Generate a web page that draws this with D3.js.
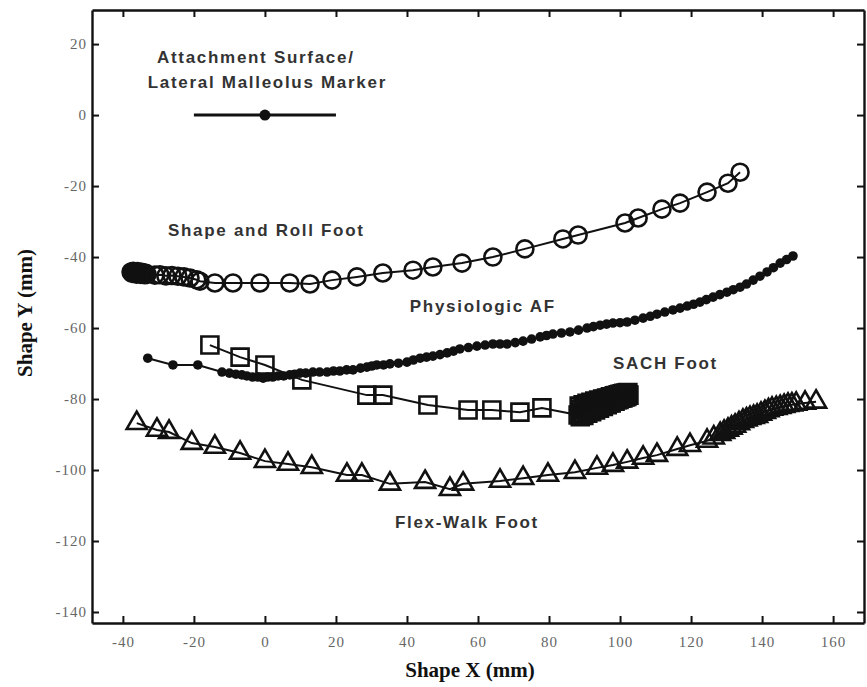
<!DOCTYPE html>
<html><head><meta charset="utf-8">
<script src="https://cdn.jsdelivr.net/npm/d3@7"></script>
<style>body{margin:0;background:#fff}svg{display:block}</style>
</head><body>
<svg id="chart" width="867" height="687"></svg>
<script>
// ---- tick values ----
const xTicks = [-40,-20,0,20,40,60,80,100,120,140,160];
const yTicks = [20,0,-20,-40,-60,-80,-100,-120,-140];

// ---- series: Shape and Roll Foot (open circles) ----
const shapeRollX = [-37.7,-37.4,-37.1,-36.8,-36.5,-36.2,-35.9,-35.6,-35.3,-35.0,-34.7,-34.4,-34.1,-33.8,-33.5,-33.2,-31.0,-29.6,-27.9,-26.2,-24.5,-22.8,-21.1,-19.2,-18.3,-14.1,-9.0,-1.4,7.0,12.7,18.9,25.9,33.2,41.7,47.3,55.5,64.2,73.2,83.9,88.2,101.4,105.1,111.8,116.9,124.5,130.4,133.8];
const shapeRollY = [-44.2,-44.6,-44.0,-44.5,-44.3,-44.8,-44.1,-44.6,-44.4,-44.9,-44.3,-44.7,-44.5,-45.0,-44.6,-44.9,-45.1,-45.0,-45.3,-45.2,-45.4,-45.6,-45.9,-46.4,-46.8,-47.3,-47.3,-47.3,-47.3,-47.6,-46.5,-45.6,-44.5,-43.7,-42.8,-41.7,-40.0,-37.7,-34.9,-33.8,-30.4,-29.0,-26.5,-24.8,-21.7,-19.2,-16.1];

// ---- series: Physiologic AF (small filled dots) ----
const physioX = [-33.0,-25.9,-18.9,-12.1,-10.0,-8.2,-6.5,-5.1,-3.5,-2.0,-0.5,0.8,2.2,3.7,5.3,7.0,8.4,9.9,11.5,13.5,15.4,17.5,19.3,21.1,23.0,24.8,26.9,28.7,30.1,31.5,33.4,35.2,37.6,40.0,41.8,43.7,45.5,47.3,49.3,51.3,53.1,54.9,57.3,59.7,62.0,64.2,66.2,68.2,70.5,72.7,75.1,77.5,79.3,81.1,83.5,85.9,88.3,90.7,92.5,94.4,96.2,98.0,100.0,102.0,104.2,106.5,108.5,110.4,112.6,114.9,116.9,118.9,120.7,122.5,124.3,126.2,128.1,130.1,131.9,133.8,135.6,137.5,139.4,141.4,143.2,145.1,146.9,148.7];
const physioY = [-68.5,-70.4,-70.4,-72.4,-72.7,-73.0,-73.2,-73.5,-73.8,-73.8,-74.1,-73.8,-73.8,-73.5,-73.5,-73.2,-73.0,-72.7,-72.7,-72.4,-72.4,-72.4,-72.1,-72.1,-71.8,-71.8,-71.3,-71.0,-70.7,-70.4,-70.4,-70.1,-69.9,-69.6,-69.0,-68.5,-68.2,-67.9,-67.5,-67.0,-66.5,-65.9,-65.5,-65.1,-64.8,-64.5,-64.5,-64.5,-64.1,-63.7,-63.1,-62.5,-62.1,-61.7,-61.4,-61.1,-60.6,-60.0,-59.6,-59.2,-58.9,-58.6,-58.5,-58.3,-57.8,-57.2,-56.7,-56.1,-55.5,-54.9,-54.4,-53.8,-53.3,-52.7,-52.0,-51.3,-50.6,-49.9,-49.2,-48.5,-47.6,-46.5,-45.4,-44.2,-43.0,-41.7,-40.7,-39.7];

// ---- series: SACH Foot (open squares) ----
const sachX = [-15.5,-7.0,0.0,10.4,28.7,33.2,45.9,57.2,63.9,71.8,78.0,88.2,88.5,88.8,89.0,89.3,89.6,89.8,90.1,90.4,90.7,90.9,91.2,91.5,91.8,92.0,92.3,92.6,92.9,93.1,93.4,93.7,94.0,94.2,94.5,94.8,95.1,95.3,95.6,95.9,96.2,96.4,96.7,97.0,97.3,97.5,97.8,98.1,98.4,98.6,98.9,99.2,99.5,99.7,100.0,100.3,100.6,100.8,101.1,101.4,101.7,101.9,102.2,102.5];
const sachY = [-64.8,-68.2,-70.4,-74.6,-78.9,-78.9,-81.7,-83.1,-83.1,-83.7,-82.5,-84.5,-82.0,-85.0,-82.8,-84.0,-81.6,-84.6,-82.3,-83.6,-81.2,-84.0,-81.8,-83.2,-80.9,-83.6,-81.3,-82.8,-80.6,-83.1,-80.9,-82.4,-80.3,-82.6,-80.5,-81.9,-80.0,-82.1,-80.1,-81.4,-79.7,-81.6,-79.8,-81.0,-79.4,-81.1,-79.4,-80.6,-79.1,-80.6,-79.0,-80.2,-78.8,-80.1,-78.7,-79.8,-78.5,-79.7,-78.4,-79.4,-78.3,-79.3,-78.2,-78.9];

// ---- series: Flex-Walk Foot (open triangles) ----
const flexX = [-36.1,-30.4,-27.0,-20.6,-14.1,-7.0,0.0,6.5,13.2,23.1,27.3,35.2,45.1,52.1,55.8,66.2,72.7,79.7,87.3,93.5,98.0,102.0,106.5,110.4,116.1,119.7,124.5,126.4,128.2,129.3,130.4,131.4,132.4,133.5,134.6,135.6,136.6,137.6,138.6,139.7,140.8,141.8,142.8,144.0,145.1,146.2,147.3,148.4,149.6,152.1,155.2];
const flexY = [-86.8,-88.7,-89.3,-92.4,-93.5,-95.2,-97.5,-98.3,-99.2,-101.4,-101.4,-103.9,-103.4,-105.4,-103.9,-103.1,-102.3,-101.4,-100.6,-99.4,-98.6,-97.7,-96.6,-95.8,-94.1,-93.0,-91.8,-90.9,-89.9,-89.3,-88.7,-88.1,-87.6,-86.9,-86.2,-85.8,-85.4,-85.1,-84.8,-84.2,-83.7,-83.2,-82.8,-82.6,-82.3,-82.0,-81.7,-81.6,-81.4,-81.1,-80.8];

// ---- legend marker (attachment surface / lateral malleolus) ----
const legendLineX = [-20, 20];
const legendLineY = [0, 0];
const legendDot = [0, 0];

// ---- annotation labels ----
const labels = [
  {text: "Attachment Surface/", x: -30.4, y: 14.6},
  {text: "Lateral Malleolus Marker", x: -33.0, y: 7.6},
  {text: "Shape and Roll Foot", x: -27.3, y: -34.1},
  {text: "Physiologic AF", x: 40.8, y: -55.5},
  {text: "SACH Foot", x: 98.0, y: -71.5},
  {text: "Flex-Walk Foot", x: 36.6, y: -116.3}
];

const W = 867, H = 687;
const margin = {left: 92, right: 3, top: 10, bottom: 64};
const svg = d3.select("#chart");

const x = d3.scaleLinear().domain([-48.7, 168.7]).range([margin.left, W - margin.right]);
const y = d3.scaleLinear().domain([-143.1, 29.6]).range([H - margin.bottom, margin.top]);

const fmt = d => String(d);
const tickFont = "'Liberation Serif','Times New Roman',serif";

// axes
const gB = svg.append("g").attr("transform", `translate(0,${H - margin.bottom})`)
  .call(d3.axisBottom(x).tickValues(xTicks).tickFormat(fmt).tickSizeInner(-7).tickSizeOuter(0).tickPadding(13));
const gL = svg.append("g").attr("transform", `translate(${margin.left},0)`)
  .call(d3.axisLeft(y).tickValues(yTicks).tickFormat(fmt).tickSizeInner(-7).tickSizeOuter(0).tickPadding(5));
const gT = svg.append("g").attr("transform", `translate(0,${margin.top})`)
  .call(d3.axisTop(x).tickValues(xTicks).tickFormat("").tickSizeInner(-7).tickSizeOuter(0));
const gR = svg.append("g").attr("transform", `translate(${W - margin.right},0)`)
  .call(d3.axisRight(y).tickValues(yTicks).tickFormat("").tickSizeInner(-7).tickSizeOuter(0));

[gB, gL, gT, gR].forEach(g => {
  g.select(".domain").attr("stroke", "#111").attr("stroke-width", 2.4);
  g.selectAll(".tick line").attr("stroke", "#111").attr("stroke-width", 2);
  g.selectAll(".tick text").attr("fill", "#666").style("font-family", tickFont)
    .style("font-size", "15px").style("letter-spacing", "1px");
});

// axis titles
svg.append("text").attr("x", 470).attr("y", 677).attr("text-anchor", "middle")
  .style("font-family", tickFont).style("font-weight", "bold").style("font-size", "21px")
  .attr("fill", "#111").text("Shape X (mm)");
svg.append("text").attr("transform", "translate(32,313) rotate(-90)").attr("text-anchor", "middle")
  .style("font-family", tickFont).style("font-weight", "bold").style("font-size", "21px")
  .attr("fill", "#111").text("Shape Y (mm)");

const toPts = (xs, ys) => xs.map((v, i) => [v, ys[i]]);
const line = d3.line().x(d => x(d[0])).y(d => y(d[1]));
const plot = svg.append("g");

const shapeRoll = toPts(shapeRollX, shapeRollY);
const physio = toPts(physioX, physioY);
const sach = toPts(sachX, sachY);
const flex = toPts(flexX, flexY);

// Flex-Walk
plot.append("path").attr("d", line(flex)).attr("fill", "none").attr("stroke", "#111").attr("stroke-width", 2);
plot.selectAll(".tri").data(flex).join("path").attr("class", "tri")
  .attr("d", d3.symbol().type(d3.symbolTriangle).size(175))
  .attr("transform", d => `translate(${x(d[0])},${y(d[1])})`)
  .attr("fill", "none").attr("stroke", "#111").attr("stroke-width", 2.6);

// Physiologic AF
plot.append("path").attr("d", line(physio)).attr("fill", "none").attr("stroke", "#111").attr("stroke-width", 2);
plot.selectAll(".dot").data(physio).join("circle").attr("class", "dot")
  .attr("cx", d => x(d[0])).attr("cy", d => y(d[1])).attr("r", 4.8).attr("fill", "#111");

// SACH
plot.append("path").attr("d", line(sach)).attr("fill", "none").attr("stroke", "#111").attr("stroke-width", 2);
plot.selectAll(".sq").data(sach).join("path").attr("class", "sq")
  .attr("d", d3.symbol().type(d3.symbolSquare).size(289))
  .attr("transform", d => `translate(${x(d[0])},${y(d[1])})`)
  .attr("fill", "none").attr("stroke", "#111").attr("stroke-width", 2.6);

// Shape and Roll
plot.append("path").attr("d", line(shapeRoll)).attr("fill", "none").attr("stroke", "#111").attr("stroke-width", 2);
plot.selectAll(".circ").data(shapeRoll).join("circle").attr("class", "circ")
  .attr("cx", d => x(d[0])).attr("cy", d => y(d[1])).attr("r", 8.5)
  .attr("fill", "none").attr("stroke", "#111").attr("stroke-width", 2.6);

// legend marker
plot.append("line").attr("x1", x(legendLineX[0])).attr("x2", x(legendLineX[1]))
  .attr("y1", y(legendLineY[0])).attr("y2", y(legendLineY[1])).attr("stroke", "#111").attr("stroke-width", 3);
plot.append("circle").attr("cx", x(legendDot[0])).attr("cy", y(legendDot[1])).attr("r", 5.5).attr("fill", "#111");

// labels
svg.selectAll(".lbl").data(labels).join("text").attr("class", "lbl")
  .attr("x", d => x(d.x)).attr("y", d => y(d.y)).attr("text-anchor", "start")
  .style("font-family", "'Liberation Sans',Arial,sans-serif").style("font-weight", "bold")
  .style("font-size", "17px").style("letter-spacing", "1.7px").attr("fill", "#333")
  .text(d => d.text);
</script>
</body></html>
